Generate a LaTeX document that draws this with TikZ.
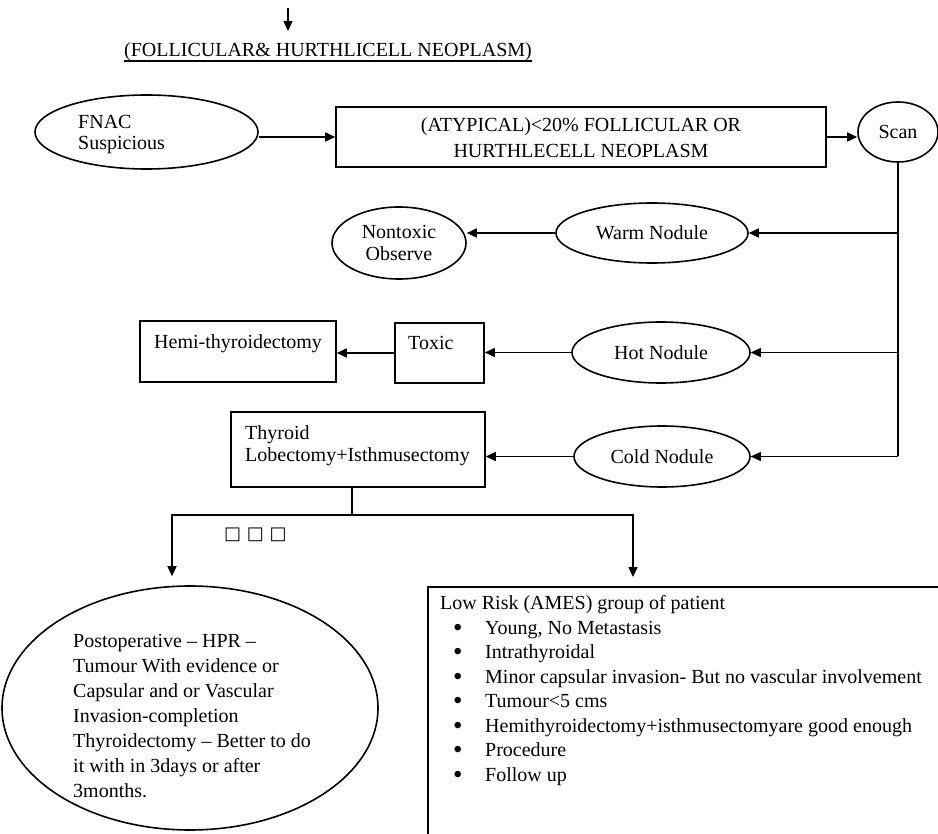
\documentclass[tikz,border=0pt]{standalone}
\usepackage{fontspec}
\setmainfont{Liberation Serif}
\newfontfamily\symfont{DejaVu Sans}
\usetikzlibrary{arrows.meta,shapes.geometric}
\begin{document}
\begin{tikzpicture}[x=1pt,y=-1pt,
  every node/.style={font=\fontsize{20}{23}\selectfont},
  ell/.style={draw,ellipse,line width=1.6pt,inner sep=0pt},
  boxr/.style={draw,rectangle,line width=1.6pt,inner sep=0pt},
  txt/.style={inner sep=0pt},
  conn/.style={line width=1.6pt},
  arr/.style={conn,-{Triangle[length=10pt,width=9pt]}}]
\useasboundingbox (0,0) rectangle (938,834);
\fill[white] (0,0) rectangle (938,834);
\clip (0,0) rectangle (938,834);

% top arrow and title
\coordinate (tas) at (288,8);
\coordinate (tae) at (288,31);
\draw[arr] (tas) -- (tae);
\node[txt,anchor=base west] (title) at (124,57) {(FOLLICULAR\& HURTHLICELL NEOPLASM)};
\draw[line width=1.2pt] ([yshift=-4pt]title.base west) -- ([yshift=-4pt]title.base east);

% first row
\node[ell,minimum width=223pt,minimum height=74pt] (fnac) at (146.5,132) {};
\node[txt,anchor=base west] (fnact1) at (78,129) {FNAC};
\node[txt,anchor=base west] (fnact2) at (78,150) {Suspicious};
\node[boxr,minimum width=490pt,minimum height=60pt] (atyp) at (581,137) {};
\node[txt,anchor=base] (atyp1) at (581,132) {(ATYPICAL)<20\% FOLLICULAR OR};
\node[txt,anchor=base] (atyp2) at (581,158) {HURTHLECELL NEOPLASM};
\node[ell,minimum width=80pt,minimum height=60pt] (scan) at (898,132) {Scan};

% scan results
\node[ell,minimum width=192pt,minimum height=60pt] (warm) at (652,233) {Warm Nodule};
\node[ell,minimum width=134pt,minimum height=72pt,align=center,font=\fontsize{20}{22}\selectfont] (nontox) at (399,243) {Nontoxic\\Observe};
\node[boxr,minimum width=196pt,minimum height=61pt] (hemi) at (238,351.5) {};
\node[txt,anchor=base west] (hemit) at (154,349) {Hemi-thyroidectomy};
\node[boxr,minimum width=89pt,minimum height=60pt] (toxic) at (439.5,353) {};
\node[txt,anchor=base west] (toxict) at (408,350) {Toxic};
\node[ell,minimum width=178pt,minimum height=61pt] (hot) at (661,352.5) {Hot Nodule};
\node[boxr,minimum width=254pt,minimum height=75pt] (thy) at (358,449.5) {};
\node[txt,anchor=base west] (thyt1) at (245,439) {Thyroid};
\node[txt,anchor=base west] (thyt2) at (245,462) {Lobectomy+Isthmusectomy};
\node[ell,minimum width=176pt,minimum height=61pt] (cold) at (662,456.5) {Cold Nodule};

% bottom
\node[ell,minimum width=376pt,minimum height=244pt] (post) at (190,708) {};
\foreach \t [count=\i] in {{Postoperative – HPR –},{Tumour With evidence or},{Capsular and or Vascular},{Invasion-completion},{Thyroidectomy – Better to do},{it with in 3days or after},{3months.}}
  \node[txt,anchor=base west] (pl\i) at (73,{647+25*(\i-1)}) {\t};

\node[boxr,anchor=north west,minimum width=560pt,minimum height=300pt] (low) at (427,586) {};
\node[txt,anchor=base west] (lowt) at (440,609.5) {Low Risk (AMES) group of patient};
\foreach \t [count=\i] in {{Young, No Metastasis},{Intrathyroidal},{Minor capsular invasion- But no vascular involvement},{Tumour<5 cms},{Hemithyroidectomy+isthmusectomyare good enough},{Procedure},{Follow up}}
{
  \node[txt,anchor=base west,font=\fontsize{27}{27}\selectfont] (lb\i) at (453,{636+24.5*(\i-1)}) {•};
  \node[txt,anchor=base west] (li\i) at (485,{634+24.5*(\i-1)}) {\t};
}
\node[txt,anchor=base west,font=\symfont\fontsize{18}{18}\selectfont] (sq) at (224,539) {□ □ □};

% connectors
\draw[arr] (fnac.east |- atyp.west) -- (atyp.west);
\draw[arr] (atyp.east) -- (atyp.east -| scan.west);
\draw[conn] (scan.south) -- (scan.south |- cold.east) coordinate (trunkend);
\draw[arr] (scan.south |- warm.east) -- (warm.east);
\draw[arr] (scan.south |- hot.east) -- (hot.east);
\draw[arr] (trunkend) -- (cold.east);
\draw[arr] (warm.west) -- (nontox.east |- warm.west);
\draw[arr] (hot.west) -- (hot.west -| toxic.east);
\draw[arr] (toxic.west) -- (toxic.west -| hemi.east);
\draw[arr] (cold.west) -- (cold.west -| thy.east);
\coordinate (split) at (352,515);
\coordinate (lft) at (172,515);
\coordinate (rgt) at (633,515);
\draw[conn] (thy.south -| split) -- (split);
\draw[conn,line cap=rect] (lft) -- (rgt);
\draw[arr,shorten >=9pt] (lft) -- (lft |- post.north);
\draw[arr,shorten >=9pt] (rgt) -- (rgt |- low.north);
\end{tikzpicture}
\end{document}
